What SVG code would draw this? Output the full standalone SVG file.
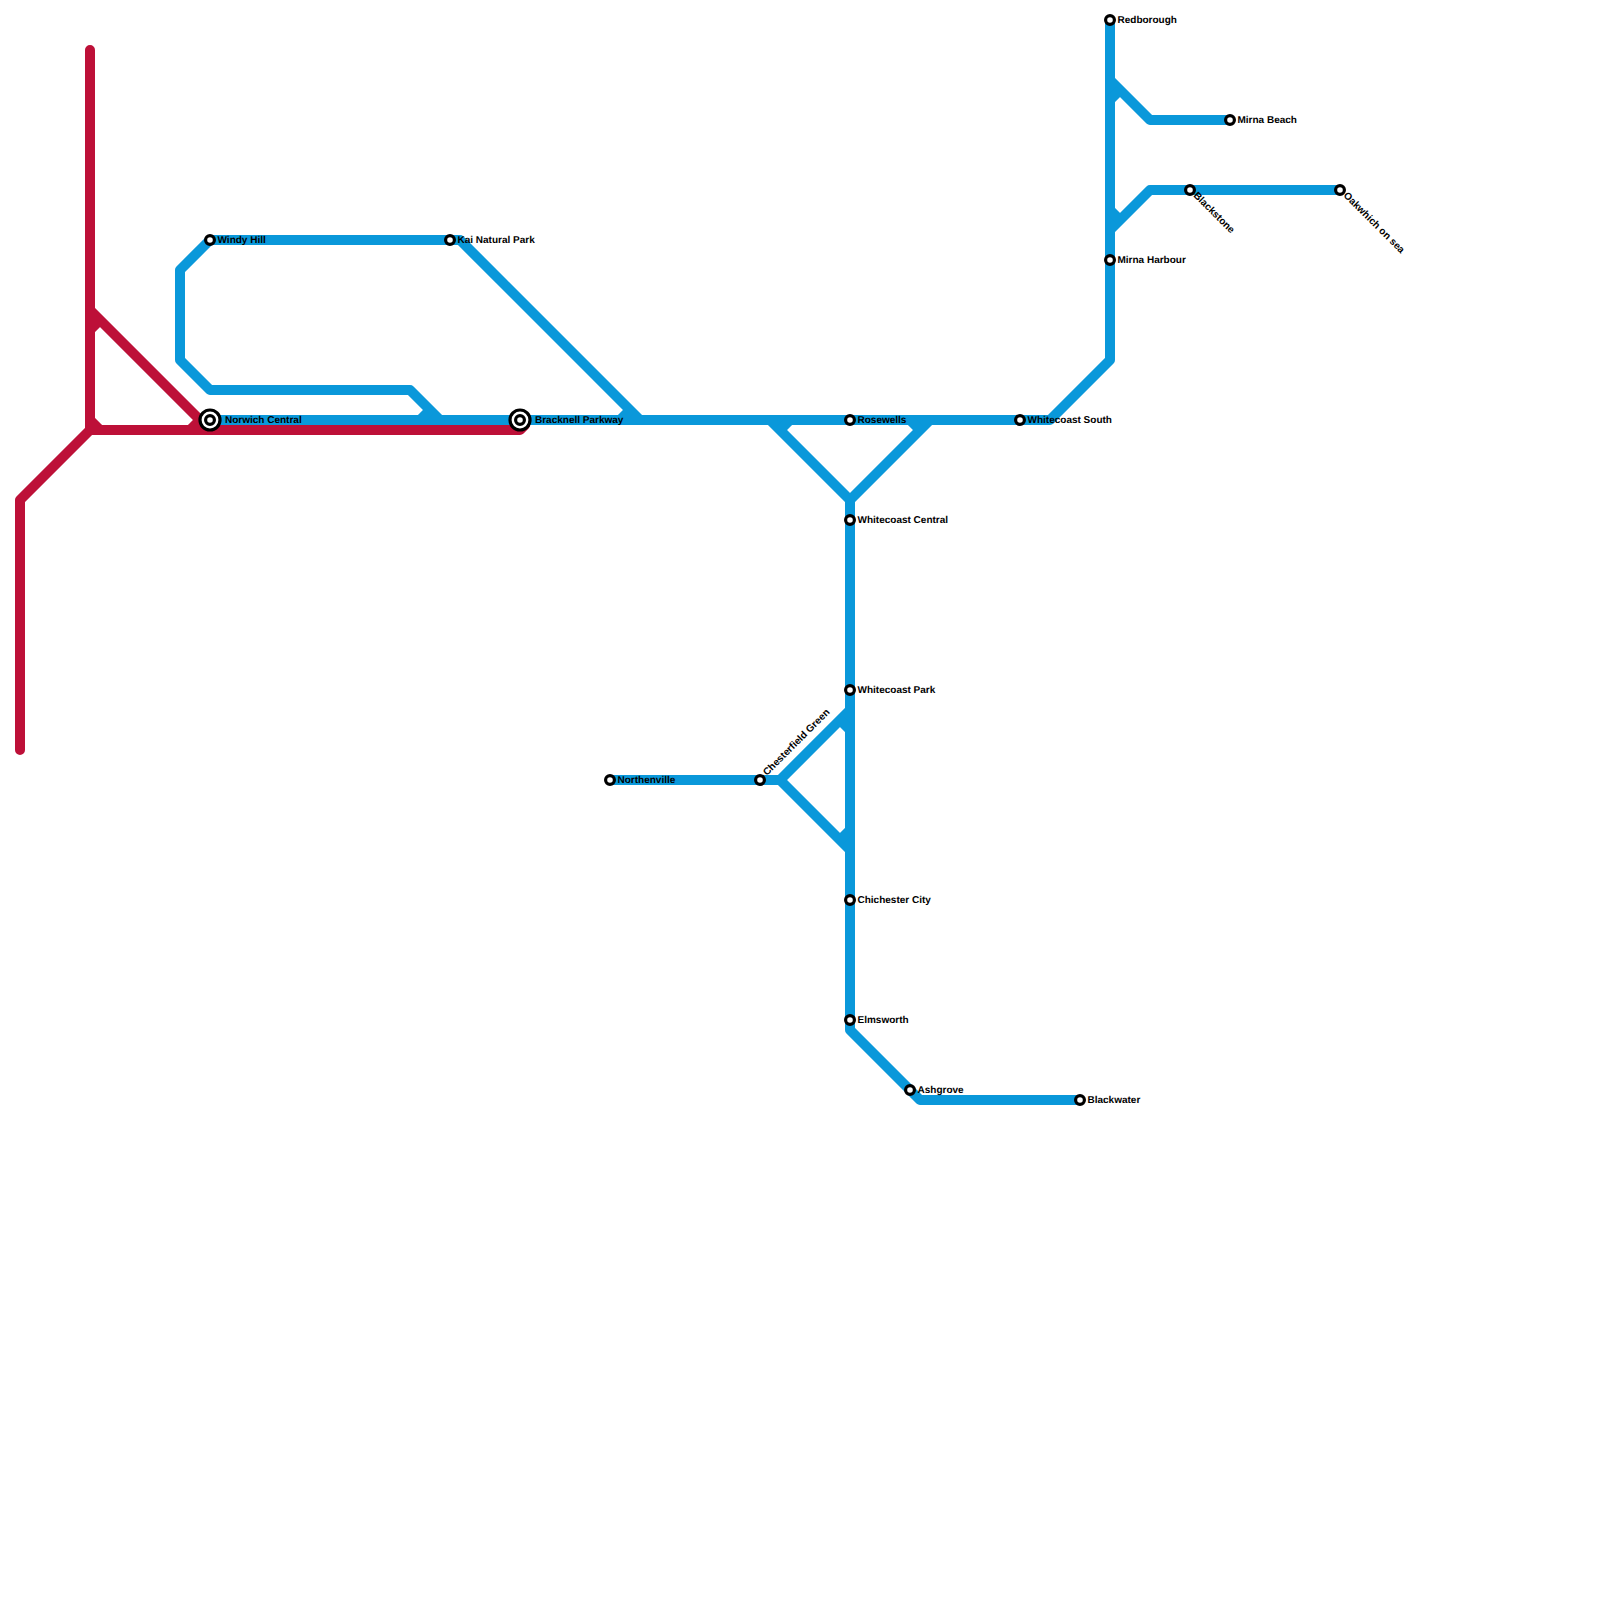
<svg xmlns="http://www.w3.org/2000/svg" width="1600" height="1600" viewBox="0 0 1600 1600">
<style>
.l{fill:none;stroke-width:10;stroke-linejoin:round;stroke-linecap:round}
.s{fill:none;stroke-width:10;stroke-linecap:butt}
.r{stroke:#bd1038}
.b{stroke:#0a98da}
.st{fill:#fff;stroke:#000;stroke-width:3.2}
.big{fill:#fff;stroke:#000;stroke-width:3.2}
.t{font-family:"Liberation Sans",Arial,sans-serif;font-size:10px;font-weight:bold;fill:#000;stroke:none;text-rendering:geometricPrecision}
</style>
<rect width="1600" height="1600" fill="#fff"/>
<g id="connectors">
<path class="l r" d="M90 50V430L20 500V750"/>
<path class="l r" d="M90 430H520L525 425"/>
<path class="l r" d="M90 310L210 430"/>
<path class="s r" d="M90 330L100 320M90 420L100 430M190 430L200 420"/>
<path class="l b" d="M210 420H1050L1110 360V20"/>
<path class="l b" d="M210 240H460L640 420"/>
<path class="l b" d="M210 240L180 270V360L210 390H410L440 420"/>
<path class="l b" d="M770 420L850 500L930 420"/>
<path class="l b" d="M850 500V1030L920 1100H1080"/>
<path class="l b" d="M610 780H780L850 710"/>
<path class="l b" d="M780 780L850 850"/>
<path class="l b" d="M1110 80L1150 120H1230"/>
<path class="l b" d="M1110 230L1150 190H1340"/>
<path class="s b" d="M420 420L430 410M620 420L630 410M780 430L790 420M910 420L920 430M840 720L850 730M840 840L850 830M1110 100L1120 90M1110 210L1120 220"/>
</g>
<g id="n-windy-hill"><circle class="st" cx="210" cy="240" r="4.4"/><text class="t" x="217.500" y="242.500">Windy Hill</text></g>
<g id="n-kai-natural-park"><circle class="st" cx="450" cy="240" r="4.4"/><text class="t" x="457.500" y="242.500">Kai Natural Park</text></g>
<g id="n-norwich-central"><circle class="big" cx="210" cy="420" r="10"/><circle class="st" cx="210" cy="420" r="4.4"/><text class="t" x="225" y="422.500">Norwich Central</text></g>
<g id="n-bracknell-parkway"><circle class="big" cx="520" cy="420" r="10"/><circle class="st" cx="520" cy="420" r="4.4"/><text class="t" x="535" y="422.500">Bracknell Parkway</text></g>
<g id="n-rosewells"><circle class="st" cx="850" cy="420" r="4.4"/><text class="t" x="857.500" y="422.500">Rosewells</text></g>
<g id="n-whitecoast-south"><circle class="st" cx="1020" cy="420" r="4.4"/><text class="t" x="1027.500" y="422.500">Whitecoast South</text></g>
<g id="n-whitecoast-central"><circle class="st" cx="850" cy="520" r="4.4"/><text class="t" x="857.500" y="522.500">Whitecoast Central</text></g>
<g id="n-whitecoast-park"><circle class="st" cx="850" cy="690" r="4.4"/><text class="t" x="857.500" y="692.500">Whitecoast Park</text></g>
<g id="n-chichester-city"><circle class="st" cx="850" cy="900" r="4.4"/><text class="t" x="857.500" y="902.500">Chichester City</text></g>
<g id="n-elmsworth"><circle class="st" cx="850" cy="1020" r="4.4"/><text class="t" x="857.500" y="1022.500">Elmsworth</text></g>
<g id="n-ashgrove"><circle class="st" cx="910" cy="1090" r="4.4"/><text class="t" x="917.500" y="1092.500">Ashgrove</text></g>
<g id="n-blackwater"><circle class="st" cx="1080" cy="1100" r="4.4"/><text class="t" x="1087.500" y="1102.500">Blackwater</text></g>
<g id="n-northenville"><circle class="st" cx="610" cy="780" r="4.4"/><text class="t" x="617.500" y="782.500">Northenville</text></g>
<g id="n-chesterfield-green"><circle class="st" cx="760" cy="780" r="4.4"/><text class="t" transform="translate(767 776) rotate(-45)">Chesterfield Green</text></g>
<g id="n-redborough"><circle class="st" cx="1110" cy="20" r="4.4"/><text class="t" x="1117.500" y="22.500">Redborough</text></g>
<g id="n-mirna-beach"><circle class="st" cx="1230" cy="120" r="4.4"/><text class="t" x="1237.500" y="122.500">Mirna Beach</text></g>
<g id="n-mirna-harbour"><circle class="st" cx="1110" cy="260" r="4.4"/><text class="t" x="1117.500" y="262.500">Mirna Harbour</text></g>
<g id="n-blackstone"><circle class="st" cx="1190" cy="190" r="4.4"/><text class="t" transform="translate(1193 196) rotate(45)">Blackstone</text></g>
<g id="n-oakwhich-on-sea"><circle class="st" cx="1340" cy="190" r="4.4"/><text class="t" transform="translate(1343 196) rotate(45)">Oakwhich on sea</text></g>
</svg>
